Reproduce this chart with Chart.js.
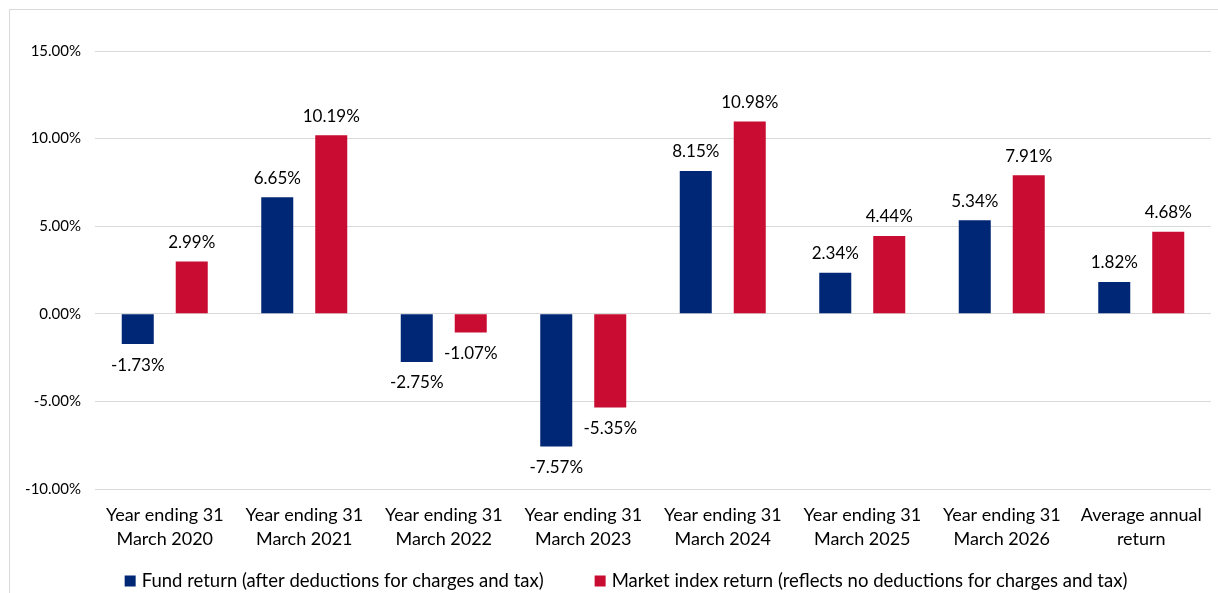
<!DOCTYPE html>
<html>
<head>
<meta charset="utf-8">
<script src="https://cdn.jsdelivr.net/npm/chart.js@4"></script>
<style>
  html, body { margin: 0; padding: 0; background: #fff; overflow: hidden; }
  #frame { position: absolute; left: 9px; top: 9px; width: 1400px; height: 800px; border: 1px solid #d9d9d9; }
  #wrap { position: absolute; left: 0; top: 0; width: 1218px; height: 593px; }
</style>
</head>
<body>
<div id="frame"></div>
<div id="wrap"><canvas id="chart"></canvas></div>
<script>
const categories = [
    ['Year ending 31', 'March 2020'],
    ['Year ending 31', 'March 2021'],
    ['Year ending 31', 'March 2022'],
    ['Year ending 31', 'March 2023'],
    ['Year ending 31', 'March 2024'],
    ['Year ending 31', 'March 2025'],
    ['Year ending 31', 'March 2026'],
    ['Average annual', 'return']
];
const fundReturn = [-1.73, 6.65, -2.75, -7.57, 8.15, 2.34, 5.34, 1.82];
const indexReturn = [2.99, 10.19, -1.07, -5.35, 10.98, 4.44, 7.91, 4.68];
const seriesNames = [
    'Fund return (after deductions for charges and tax)',
    'Market index return (reflects no deductions for charges and tax)'
];
const seriesColors = ['#002776', '#C80C32'];

const FONT = "Lato, 'Liberation Sans', sans-serif";

// value labels above positive bars, below negative ones
const barLabels = {
    id: 'barLabels',
    afterDatasetsDraw(chart) {
        const ctx = chart.ctx;
        ctx.save();
        ctx.font = '17px ' + FONT;
        ctx.fillStyle = '#000';
        ctx.textAlign = 'center';
        ctx.textBaseline = 'middle';
        chart.data.datasets.forEach((ds, i) => {
            chart.getDatasetMeta(i).data.forEach((bar, j) => {
                const v = ds.data[j];
                const y = v >= 0 ? bar.y - 19 : bar.y + 21;
                ctx.fillText(v.toFixed(2) + '%', bar.x, y);
            });
        });
        ctx.restore();
    }
};

// legend drawn by hand so the row spacing is free of the built-in padding
const bottomLegend = {
    id: 'bottomLegend',
    afterDraw(chart) {
        const ctx = chart.ctx;
        ctx.save();
        ctx.font = '18.5px ' + FONT;
        ctx.textBaseline = 'middle';
        const box = 11, gap = 6, spacing = 51;
        const widths = chart.data.datasets.map(ds => ctx.measureText(ds.label).width);
        const total = widths.reduce((a, w) => a + box + gap + w, 0) + spacing * (widths.length - 1);
        let x = 626 - total / 2;
        const y = 581;
        chart.data.datasets.forEach((ds, i) => {
            ctx.fillStyle = ds.backgroundColor;
            ctx.fillRect(x, y - box / 2, box, box);
            ctx.fillStyle = '#000';
            ctx.fillText(ds.label, x + box + gap, y);
            x += box + gap + widths[i] + spacing;
        });
        ctx.restore();
    }
};

new Chart(document.getElementById('chart'), {
    type: 'bar',
    data: {
        labels: categories,
        datasets: [
            { label: seriesNames[0], data: fundReturn, backgroundColor: seriesColors[0] },
            { label: seriesNames[1], data: indexReturn, backgroundColor: seriesColors[1] }
        ]
    },
    options: {
        responsive: true,
        maintainAspectRatio: false,
        animation: false,
        categoryPercentage: 0.774,
        barPercentage: 0.593,
        layout: { padding: { top: 51, right: 7, left: 0, bottom: 34 } },
        scales: {
            x: {
                afterFit: s => { s.height = 70; },
                grid: { display: false },
                border: { display: false },
                ticks: {
                    color: '#000',
                    font: { family: FONT, size: 18, lineHeight: 1.33 },
                    maxRotation: 0,
                    autoSkip: false,
                    padding: 6
                }
            },
            y: {
                min: -10,
                max: 15,
                afterFit: s => { s.width = 95; },
                grid: { color: '#d9d9d9', drawTicks: false },
                border: { display: false },
                ticks: {
                    stepSize: 5,
                    padding: 14,
                    color: '#000',
                    font: { family: FONT, size: 15 },
                    callback: v => v.toFixed(2) + '%'
                }
            }
        },
        plugins: {
            legend: { display: false },
            tooltip: { enabled: false }
        }
    },
    plugins: [barLabels, bottomLegend]
});
</script>
</body>
</html>
